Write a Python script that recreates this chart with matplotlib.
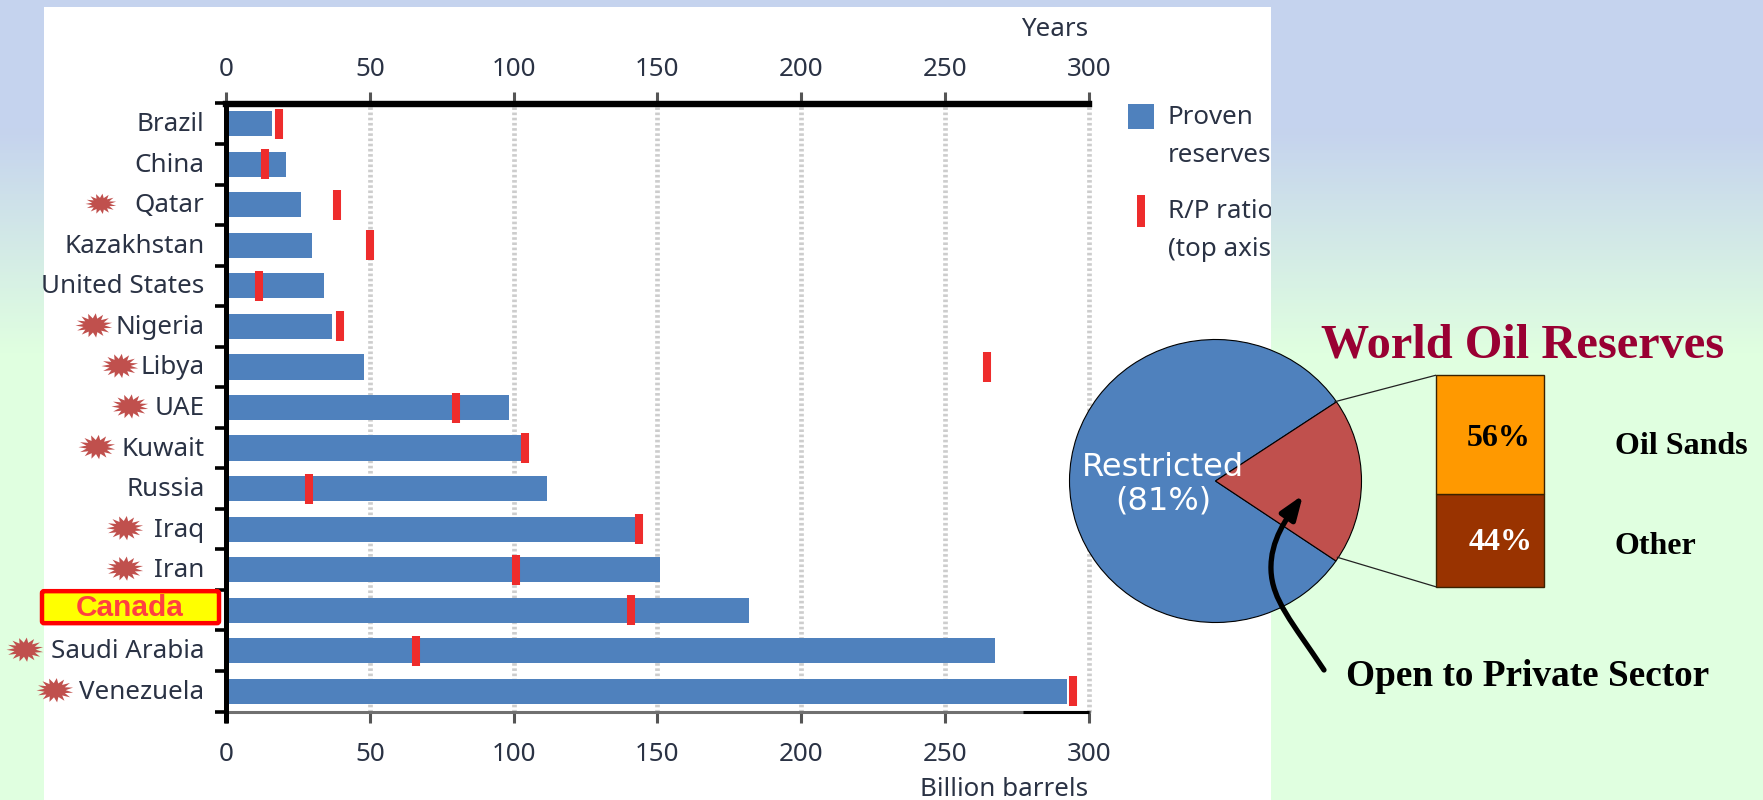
import numpy as np
import matplotlib
matplotlib.use("Agg")
import matplotlib.pyplot as plt
from matplotlib.path import Path
from matplotlib.patches import FancyArrowPatch, FancyBboxPatch, Rectangle
from matplotlib.transforms import Bbox, ScaledTranslation
from matplotlib.colors import LinearSegmentedColormap

W, H = 1763, 800

countries = ["Brazil", "China", "Qatar", "Kazakhstan", "United States", "Nigeria", "Libya",
             "UAE", "Kuwait", "Russia", "Iraq", "Iran", "Canada", "Saudi Arabia", "Venezuela"]
proven_reserves = [16, 21, 26, 30, 34, 37, 48, 98.5, 103, 111.5, 143, 151, 182, 267.5, 292.5]
rp_ratio = [18.5, 13.5, 38.5, 50, 11.5, 39.5, 264.5, 80, 104, 29, 143.5, 101, 141, 66, 294.5]
ticks = [0, 50, 100, 150, 200, 250, 300]

# Countries flagged with a burst: name, burst centre x and width in pixels
flagged = [("Qatar", 101, 31), ("Nigeria", 94, 37), ("Libya", 120, 37), ("UAE", 130, 37),
           ("Kuwait", 97, 37), ("Iraq", 125, 37), ("Iran", 125, 37),
           ("Saudi Arabia", 25, 37), ("Venezuela", 55, 37)]

reserve_access = [81, 19]
open_split = [56, 44]
open_labels = ["Oil Sands", "Other"]

BLUE = "#4f81bd"
RED = "#ee2c2c"
BURST = "#c0504d"
LABEL = "#2a3244"
SERIF = "Liberation Serif"
SANS = "Noto Sans"
CHART_FONT = 18.7


def px_rect(x0, y0, x1, y1):
    """Axes rectangle from pixel corners measured from the top left."""
    return [x0 / W, 1 - y1 / H, (x1 - x0) / W, (y1 - y0) / H]


fig = plt.figure(figsize=(W / 100, H / 100), dpi=100)

# Slide background: vertical blue-to-green wash
bg = fig.add_axes([0, 0, 1, 1], zorder=0)
wash = LinearSegmentedColormap.from_list("wash", [(0, "#c5d3ee"), (0.16, "#c5d3ee"),
                                                  (0.44, "#e0ffe0"), (1, "#e0ffe0")])
bg.imshow(np.linspace(0, 1, H)[:, None], aspect="auto", cmap=wash, vmin=0, vmax=1,
          extent=(0, W, H, 0))
bg.add_patch(Rectangle((44, 7), 1271 - 44, H - 7, facecolor="white", edgecolor="none"))
bg.set_xlim(0, W)
bg.set_ylim(H, 0)
bg.axis("off")

# Bar chart of reserves with R/P markers
ax = fig.add_axes(px_rect(226, 103.5, 1088.7, 711.5), zorder=1)
ax.patch.set_alpha(0)
pos = np.arange(len(countries))
ax.barh(pos, proven_reserves, height=0.62, color=BLUE, linewidth=0, zorder=3)
ax.plot(rp_ratio, pos, linestyle="none", marker="|", markersize=22, markeredgewidth=5.8,
        color=RED, zorder=4, clip_on=False)
ax.set_xlim(0, 300)
ax.set_ylim(14.5, -0.5)
ax.set_xticks(ticks)
ax.xaxis.grid(True, color="#cdcdcd", linewidth=3.4, linestyle=(0, (0.55, 0.55)), zorder=1,
              clip_on=False)
ax.set_axisbelow(True)
ax.tick_params(axis="x", length=8, width=2.2, color="#555555", labelsize=CHART_FONT,
               labelcolor=LABEL, pad=14)
for lab in ax.get_xticklabels():
    lab.set_fontfamily(SANS)

# Top axis carries the years scale
top = ax.secondary_xaxis("top")
top.set_xticks(ticks)
top.tick_params(length=8, width=2.2, color="#555555", labelsize=CHART_FONT,
                labelcolor=LABEL, pad=7.5)
for lab in top.get_xticklabels():
    lab.set_fontfamily(SANS)
top.spines["top"].set_visible(False)

ax.set_yticks(pos)
ax.set_yticklabels(["" if c == "Canada" else c for c in countries],
                   fontsize=CHART_FONT, color=LABEL, fontfamily=SANS)
ax.tick_params(axis="y", which="major", length=0, pad=15.5)
lift = ScaledTranslation(0, 2 / 72 * 0.72, fig.dpi_scale_trans)
for lab in ax.get_yticklabels():
    lab.set_transform(lab.get_transform() + lift)
ax.set_yticks(np.arange(-0.5, 15), minor=True)
ax.tick_params(axis="y", which="minor", length=8, width=2.6, color="black")
ax.spines["right"].set_visible(False)
ax.spines["top"].set_linewidth(4.6)
ax.spines["bottom"].set_linewidth(2.2)
ax.spines["bottom"].set_color("#707070")
ax.spines["left"].set_linewidth(3.6)
ax.plot([277, 300], [14.5, 14.5], color="black", lw=2.2, clip_on=False, zorder=5,
        solid_capstyle="butt")

# Overlay in pixel coordinates for notes and callouts
ov = fig.add_axes([0, 0, 1, 1], zorder=3)
ov.set_xlim(0, W)
ov.set_ylim(H, 0)
ov.axis("off")
ov.patch.set_alpha(0)

ov.plot([226, 226], [103, 723], color="black", lw=3.6, solid_capstyle="butt")

panel_clip = Bbox([[44, 0], [1271, H]])
def chart_text(x, y, s, **kw):
    t = ov.text(x, y, s, fontsize=CHART_FONT, color=LABEL, fontfamily=SANS, va="center", **kw)
    t.set_clip_box(panel_clip)
    t.set_clip_on(True)
    return t

chart_text(1088, 29, "Years", ha="right")
chart_text(1088, 789, "Billion barrels", ha="right")
ov.add_patch(Rectangle((1128, 104), 26, 25, facecolor=BLUE, edgecolor="none"))
ov.add_patch(Rectangle((1137, 195), 8, 32, facecolor=RED, edgecolor="none"))
chart_text(1168, 118, "Proven", ha="left")
chart_text(1168, 156, "reserves", ha="left")
chart_text(1168, 211, "R/P ratio", ha="left")
chart_text(1168, 250, "(top axis)", ha="left")


def row_y(name):
    """Pixel height of a country's row."""
    disp = ax.transData.transform((0, countries.index(name)))
    return H - disp[1]


# Bursts beside the flagged countries
spikes = 15
angles = np.linspace(0, 2 * np.pi, 2 * spikes, endpoint=False) + 0.2
radii = np.where(np.arange(2 * spikes) % 2 == 0, 1.0, 0.58)
for name, cx, width in flagged:
    xs = cx + radii * np.cos(angles) * width / 2
    ys = row_y(name) - 1 + radii * np.sin(angles) * width * 0.33
    ov.fill(xs, ys, color=BURST, linewidth=0)

# Highlighted Canada label
cy = row_y("Canada")
ov.add_patch(FancyBboxPatch((42, cy - 19), 177, 32, boxstyle="round,pad=0,rounding_size=2",
                            facecolor="#ffff00", edgecolor="#ff0000", linewidth=3.2))
ov.text(130, cy - 2, "Canada", fontsize=21.5, fontweight="bold", color="#ff4040",
        fontfamily="Liberation Sans", ha="center", va="center")

# Pie of reserve access
pie_ax = fig.add_axes(px_rect(1069.5, 339.5, 1361.5, 622.5), zorder=2)
pie_ax.pie(reserve_access, colors=[BLUE, BURST], startangle=34, radius=1,
           wedgeprops=dict(edgecolor="black", linewidth=0.8))
pie_ax.set_aspect("auto")
pie_ax.set_xlim(-1, 1)
pie_ax.set_ylim(-1, 1)
for w in pie_ax.patches:
    w.set_clip_on(False)

ov.text(1163, 468, "Restricted", color="white", fontsize=23, fontfamily="DejaVu Sans",
        ha="center", va="center")
ov.text(1163, 501, "(81%)", color="white", fontsize=23, fontfamily="DejaVu Sans",
        ha="center", va="center")

# Stacked column splitting the open share
col = fig.add_axes(px_rect(1435.6, 375.3, 1543.5, 586.7), zorder=2)
col.bar([0], [open_split[1]], width=1, color="#993300", edgecolor="#3a2200", linewidth=1)
col.bar([0], [open_split[0]], width=1, bottom=[open_split[1]], color="#ff9900",
        edgecolor="#3a2200", linewidth=1)
col.set_xlim(-0.5, 0.5)
col.set_ylim(0, sum(open_split))
col.axis("off")
for bar_patch in col.patches:
    bar_patch.set_clip_on(False)

ov.plot([1335, 1435.6], [401.7, 375.3], color="#222222", lw=0.9)
ov.plot([1337.4, 1435.6], [557.3, 586.7], color="#222222", lw=0.9)

serif_bold = dict(fontfamily=SERIF, fontweight="bold", va="center")
ov.text(1321, 345, "World Oil Reserves", color="#990033", fontsize=34.8, ha="left", **serif_bold)
ov.text(1499, 438, f"{open_split[0]}%", color="black", fontsize=23, ha="center", **serif_bold)
ov.text(1501, 542, f"{open_split[1]}%", color="white", fontsize=23, ha="center", **serif_bold)
ov.text(1615, 447, open_labels[0], color="black", fontsize=23, ha="left", **serif_bold)
ov.text(1615, 546, open_labels[1], color="black", fontsize=23, ha="left", **serif_bold)
ov.text(1346.5, 676, "Open to Private Sector", color="black", fontsize=26.8, ha="left", **serif_bold)

# Curved arrow from the caption into the red slice
arrow_path = Path([(1324, 670), (1292, 622), (1272, 600), (1271, 570),
                   (1270, 540), (1287, 518), (1303, 495)],
                  [Path.MOVETO, Path.CURVE4, Path.CURVE4, Path.CURVE4,
                   Path.CURVE4, Path.CURVE4, Path.CURVE4])
ov.add_patch(FancyArrowPatch(path=arrow_path, arrowstyle="-|>,head_length=0.65,head_width=0.24",
                             mutation_scale=22, color="black", linewidth=3.8))

fig.savefig("out.png", dpi=100)
